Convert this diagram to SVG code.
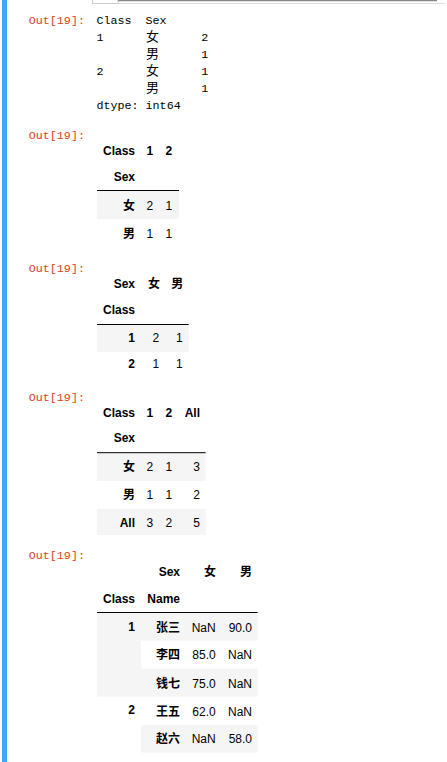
<svg xmlns="http://www.w3.org/2000/svg" width="447" height="762" viewBox="0 0 447 762">
<style>
.prompt{font-family:"Liberation Mono","Noto Sans CJK SC",monospace;font-size:11.7px;fill:#D84315}
.mono{font-family:"Liberation Mono","Noto Sans CJK SC",monospace;font-size:11.7px;fill:#000}
.cjk{font-family:"Noto Sans CJK SC",sans-serif;font-size:13px;fill:#000}
.th{font-family:"Liberation Sans","Noto Sans CJK SC",sans-serif;font-size:12px;font-weight:bold;text-anchor:end;fill:#000}
.td{font-family:"Liberation Sans","Noto Sans CJK SC",sans-serif;font-size:12px;text-anchor:end;fill:#000}
.odd{fill:#f5f5f5}
.rule{stroke:#000;stroke-width:1}
</style>
<rect x="0" y="0" width="447" height="762" fill="#fff"/>
<rect x="2" y="0" width="5" height="762" fill="#42A5F5"/>
<g id="scrollbar">
<rect x="92.5" y="-1" width="25.5" height="4.5" fill="#fff" stroke="#ccc" stroke-width="1"/>
<line x1="118" y1="0.6" x2="437" y2="0.6" stroke="#888" stroke-width="1.4"/>
<line x1="118" y1="3.5" x2="445" y2="3.5" stroke="#ddd" stroke-width="1"/>
</g>
<g id="out1">
<text class="prompt" x="28.8" y="24">Out[19]:</text>
<text class="mono" x="96.5" y="24">Class</text>
<text class="mono" x="145.5" y="24">Sex</text>
<text class="mono" x="96.5" y="41">1</text>
<text class="cjk" x="146" y="41">女</text>
<text class="mono" x="201.3" y="41">2</text>
<text class="cjk" x="146" y="58">男</text>
<text class="mono" x="201.3" y="58">1</text>
<text class="mono" x="96.5" y="75">2</text>
<text class="cjk" x="146" y="75">女</text>
<text class="mono" x="201.3" y="75">1</text>
<text class="cjk" x="146" y="92">男</text>
<text class="mono" x="201.3" y="92">1</text>
<text class="mono" x="96.5" y="109">dtype: int64</text>
</g>
<g id="out2">
<text class="prompt" x="28.8" y="139">Out[19]:</text>
<rect class="odd" x="97" y="190.5" width="82" height="28.5"/>
<line class="rule" x1="97" y1="190.5" x2="179" y2="190.5"/>
<text class="th" x="135" y="155">Class</text>
<text class="th" x="153.3" y="155">1</text>
<text class="th" x="172.3" y="155">2</text>
<text class="th" x="135" y="181">Sex</text>
<text class="th" x="135" y="209.5">女</text>
<text class="td" x="153.3" y="209.5">2</text>
<text class="td" x="172.3" y="209.5">1</text>
<text class="th" x="135" y="237.5">男</text>
<text class="td" x="153.3" y="237.5">1</text>
<text class="td" x="172.3" y="237.5">1</text>
</g>
<g id="out3">
<text class="prompt" x="28.8" y="272">Out[19]:</text>
<rect class="odd" x="97" y="324.5" width="91.7" height="27.3"/>
<line class="rule" x1="97" y1="324.5" x2="188.7" y2="324.5"/>
<text class="th" x="135" y="288.3">Sex</text>
<text class="th" x="160" y="288.3">女</text>
<text class="th" x="183.3" y="288.3">男</text>
<text class="th" x="135" y="314.3">Class</text>
<text class="th" x="135" y="341.7">1</text>
<text class="td" x="159.3" y="341.7">2</text>
<text class="td" x="182.7" y="341.7">1</text>
<text class="th" x="135" y="367.7">2</text>
<text class="td" x="159.3" y="367.7">1</text>
<text class="td" x="182.7" y="367.7">1</text>
</g>
<g id="out4">
<text class="prompt" x="28.8" y="401">Out[19]:</text>
<rect class="odd" x="97" y="452.7" width="108.7" height="28.3"/>
<rect class="odd" x="97" y="509" width="108.7" height="26"/>
<line class="rule" x1="97" y1="452.7" x2="205.7" y2="452.7"/>
<text class="th" x="135" y="416.7">Class</text>
<text class="th" x="153.3" y="416.7">1</text>
<text class="th" x="172.3" y="416.7">2</text>
<text class="th" x="200" y="416.7">All</text>
<text class="th" x="135" y="442.3">Sex</text>
<text class="th" x="135" y="471">女</text>
<text class="td" x="153.3" y="471">2</text>
<text class="td" x="172.3" y="471">1</text>
<text class="td" x="200" y="471">3</text>
<text class="th" x="135" y="499">男</text>
<text class="td" x="153.3" y="499">1</text>
<text class="td" x="172.3" y="499">1</text>
<text class="td" x="200" y="499">2</text>
<text class="th" x="135" y="526.7">All</text>
<text class="td" x="153.3" y="526.7">3</text>
<text class="td" x="172.3" y="526.7">2</text>
<text class="td" x="200" y="526.7">5</text>
</g>
<g id="out5">
<text class="prompt" x="28.8" y="559">Out[19]:</text>
<rect class="odd" x="97" y="612.5" width="160.7" height="28.2"/>
<rect class="odd" x="97" y="640.7" width="44" height="56"/>
<rect class="odd" x="141" y="668.7" width="116.7" height="28"/>
<rect class="odd" x="141" y="725" width="116.7" height="27.7"/>
<line class="rule" x1="97" y1="612.5" x2="257.7" y2="612.5"/>
<text class="th" x="180" y="576">Sex</text>
<text class="th" x="216" y="576">女</text>
<text class="th" x="252" y="576">男</text>
<text class="th" x="135" y="603.3">Class</text>
<text class="th" x="180" y="603.3">Name</text>
<text class="th" x="135" y="630.5">1</text>
<text class="th" x="180" y="631.7">张三</text>
<text class="td" x="215.7" y="631.7">NaN</text>
<text class="td" x="252" y="631.7">90.0</text>
<text class="th" x="180" y="659.3">李四</text>
<text class="td" x="215.7" y="659.3">85.0</text>
<text class="td" x="252" y="659.3">NaN</text>
<text class="th" x="180" y="687.7">钱七</text>
<text class="td" x="215.7" y="687.7">75.0</text>
<text class="td" x="252" y="687.7">NaN</text>
<text class="th" x="135" y="714">2</text>
<text class="th" x="180" y="715.7">王五</text>
<text class="td" x="215.7" y="715.7">62.0</text>
<text class="td" x="252" y="715.7">NaN</text>
<text class="th" x="180" y="743.3">赵六</text>
<text class="td" x="215.7" y="743.3">NaN</text>
<text class="td" x="252" y="743.3">58.0</text>
</g>
</svg>
